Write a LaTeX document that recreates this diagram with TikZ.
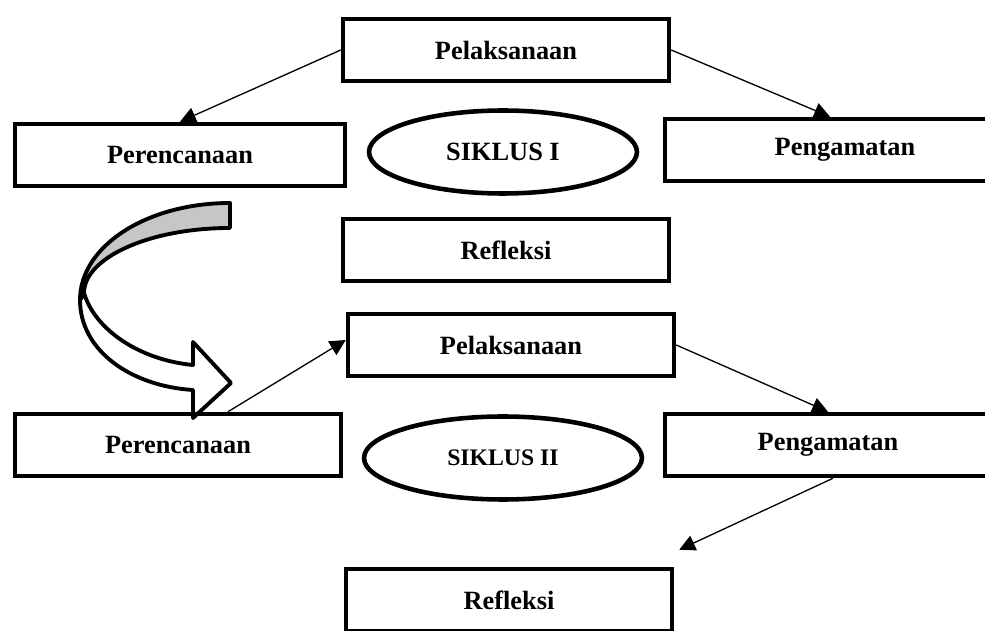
\documentclass[tikz,border=0pt]{standalone}
\usepackage{fontspec}
\setmainfont{Liberation Serif}
\usetikzlibrary{arrows.meta, shapes.geometric}

\tikzset{
  stage/.style = {draw, line width=2.6pt, minimum width=6.52cm, minimum height=1.24cm,
    font=\bfseries\fontsize{15}{18}\selectfont},
  siklus/.style = {draw, ellipse, line width=2.6pt, minimum width=5.36cm, minimum height=1.66cm,
    font=\bfseries\fontsize{15}{18}\selectfont},
  flow/.style = {-{Triangle[length=9pt,width=9pt]}, line width=0.75pt},
  ribbon/.style = {line width=2.2pt, line join=round}
}

\begin{document}
\begin{tikzpicture} [x=0.02cm, y=-0.02cm]
\useasboundingbox (0,0) rectangle (985,631);
\clip (0,0) rectangle (985,631);
% siklus I
\node[stage] (pel1) at (506,50) {Pelaksanaan};
\node[stage, minimum width=6.6cm] (per1) at (180,155) {Perencanaan};
\node[siklus] (sik1) at (503,152) {SIKLUS I};
\node[stage, minimum width=7.2cm] (pen1) at (845,150) {Pengamatan};
\node[stage] (ref1) at (506,250) {Refleksi};
\draw[flow] (pel1.west) -- (per1.north);
\draw[flow] (pel1.east) -- ([xshift=-0.3cm]pen1.north);
% panah lengkung
\draw[ribbon, fill=white] (80,300) .. controls (80,350) and (130,386) .. (193,390) -- (193,418)
  -- (231,383) -- (193,342) -- (193,365) .. controls (140,360) and (95,330) .. (84,293) -- cycle;
\draw[ribbon, fill=gray!45] (230,203) .. controls (147,203) and (80,246) .. (80,300) -- (84,293)
  .. controls (84,258) and (149,228) .. (230,228) -- cycle;
% siklus II
\node[stage] (pel2) at (511,345) {Pelaksanaan};
\node[stage] (per2) at (178,445) {Perencanaan};
\node[siklus, minimum width=5.56cm, font=\bfseries\fontsize{13.5}{16}\selectfont] (sik2) at (503,458) {SIKLUS II};
\node[stage] (pen2) at (828,445) {Pengamatan};
\node[stage] (ref2) at (509,600) {Refleksi};
\draw[flow] ([xshift=1cm]per2.north) -- ([yshift=0.1cm]pel2.west);
\draw[flow] (pel2.east) -- (pen2.north);
\draw[flow] ([xshift=0.1cm]pen2.south) -- ([shift={(0.1cm,0.34cm)}]ref2.north east);
\end{tikzpicture}
\end{document}
